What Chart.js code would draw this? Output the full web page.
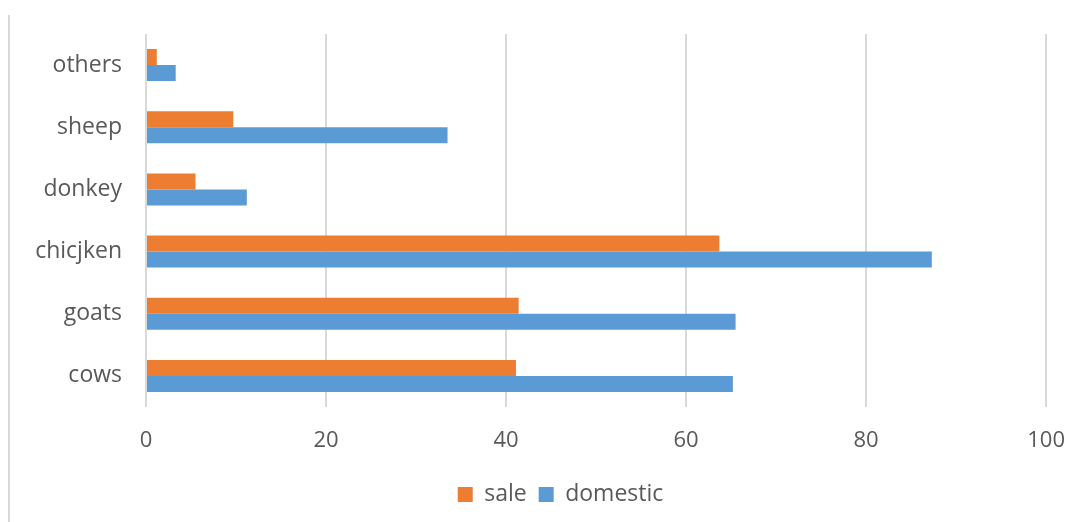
<!DOCTYPE html>
<html>
<head>
<meta charset="utf-8">
<script src="https://cdn.jsdelivr.net/npm/chart.js@4"></script>
<style>
  html, body { margin: 0; padding: 0; background: #fff; }
  #wrap { position: relative; width: 1086px; height: 522px; }
  #frame { position: absolute; left: 8px; top: 15px; bottom: 0; width: 0; border-left: 2px solid #d9d9d9; }
</style>
</head>
<body>
<div id="wrap">
  <div id="frame"></div>
  <canvas id="chart" width="1086" height="522"></canvas>
</div>
<script>
// categories listed top to bottom as in the picture
const categories = ['others', 'sheep', 'donkey', 'chicjken', 'goats', 'cows'];
const sale = [1.2, 9.7, 5.5, 63.7, 41.4, 41.1];
const domestic = [3.3, 33.5, 11.2, 87.3, 65.5, 65.2];
const xTicks = [0, 20, 40, 60, 80, 100];

const FONT = "'Open Sans', 'Liberation Sans', sans-serif";
const TEXT = '#595959';

// legend sits a bit right of the plot centre in the original
const legendShift = {
  id: 'legendShift',
  afterLayout(chart) {
    chart.legend.left += 37;
    chart.legend.right += 37;
  },
};

new Chart(document.getElementById('chart'), {
  type: 'bar',
  data: {
    labels: categories,
    datasets: [
      { label: 'sale', data: sale, backgroundColor: '#ED7D31', barPercentage: 1, categoryPercentage: 0.515 },
      { label: 'domestic', data: domestic, backgroundColor: '#5B9BD5', barPercentage: 1, categoryPercentage: 0.515 },
    ],
  },
  options: {
    indexAxis: 'y',
    responsive: false,
    animation: false,
    layout: { padding: { top: 34, right: 39, left: 0, bottom: 6 } },
    plugins: {
      tooltip: { enabled: false },
      legend: {
        position: 'bottom',
        labels: { color: TEXT, font: { family: FONT, size: 23 }, boxWidth: 15, boxHeight: 15, padding: 12 },
      },
    },
    scales: {
      x: {
        min: 0, max: 100,
        afterBuildTicks: s => { s.ticks = xTicks.map(v => ({ value: v })); },
        afterFit: s => { s.height = 64; },
        grid: { color: '#d9d9d9', lineWidth: 2, drawTicks: false },
        border: { display: false },
        ticks: { color: TEXT, font: { family: FONT, size: 22 }, padding: 21 },
      },
      y: {
        afterFit: s => { s.width = 146; s.paddingTop = 0; s.paddingBottom = 0; },
        grid: { display: false, drawTicks: false },
        border: { display: false },
        ticks: { color: TEXT, font: { family: FONT, size: 23 }, padding: 24 },
      },
    },
  },
  plugins: [legendShift],
});
</script>
</body>
</html>
